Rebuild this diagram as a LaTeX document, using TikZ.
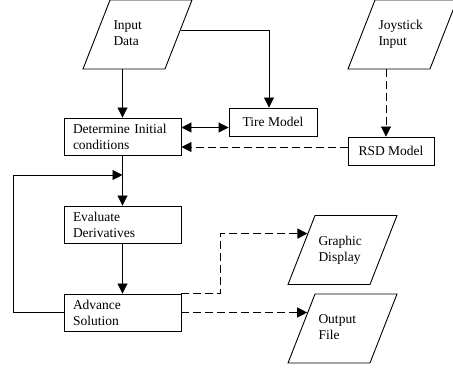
\documentclass[tikz,border=0pt]{standalone}
\usepackage{fontspec}
\setmainfont{Liberation Serif}
\usetikzlibrary{shapes.geometric,arrows.meta,calc}
\begin{document}
\begin{tikzpicture}[x=1pt,y=-1pt,
  font=\fontsize{13.5}{16}\selectfont,
  line width=0.9pt,
  proc/.style={draw, rectangle, minimum width=117pt, minimum height=37pt, text width=99pt, align=left, inner sep=0pt},
  smallbox/.style={draw, rectangle, minimum height=28pt, inner sep=0pt, align=center},
  io/.style={draw, trapezium, trapezium left angle=68.6, trapezium right angle=111.4,
    trapezium stretches body, minimum width=109pt,
    text width=48pt, text height=9.5pt, text depth=19pt, align=left,
    inner xsep=0pt, inner ysep=20.25pt},
  flow/.style={-{Triangle[length=10pt,width=10pt]}},
  dflow/.style={-{Triangle[length=10pt,width=10pt]}, dash pattern=on 8pt off 4pt},
]
\fill[white] (0,0) rectangle (453,371);
\useasboundingbox (0,0) rectangle (453,371);

\node[proc] (det) at (122.5,136.5) {Determine Initial\\conditions};
\node[proc] (eval) at (122.5,224.5) {Evaluate\\Derivatives};
\node[proc] (adv) at (122.5,312.5) {Advance\\Solution};
\node[smallbox, minimum width=88pt] (tire) at (273,122) {Tire Model};
\node[smallbox, minimum width=86pt] (rsd) at (391,151) {RSD Model};
\node[io] (id) at (137.5,34.5) {Input\\Data};
\node[io] (joy) at (402.5,34.5) {Joystick\\Input};
\node[io] (gd) at (342.5,250) {Graphic\\Display};
\node[io] (of) at (342.5,328.5) {Output\\File};

\coordinate (idR) at ($(id.bottom right corner)!0.565!(id.top right corner)$);
\coordinate (lp) at ($(det.south)!0.39!(eval.north)$);
\coordinate (gdL) at ($(gd.bottom left corner)!0.735!(gd.top left corner)$);
\coordinate (ofL) at ($(of.bottom left corner)!0.725!(of.top left corner)$);

\draw[flow] (id.south -| det.north) -- (det.north);
\draw[flow] (idR) -| ([xshift=-4pt]tire.north);
\draw[{Triangle[length=10pt,width=10pt]}-{Triangle[length=10pt,width=10pt]}]
  ([yshift=-5.5pt]tire.west -| det.east) -- ([yshift=-5.5pt]tire.west);
\draw[dflow] ([xshift=-5pt]rsd.north |- joy.south) -- ([xshift=-5pt]rsd.north);
\draw[dflow] ([yshift=4pt]rsd.west) -- ([yshift=4pt]rsd.west -| det.east);
\draw[flow] (det.south) -- (eval.north);
\draw[flow] (eval.south) -- (adv.north);
\draw[flow] (adv.west) -- ++(-50pt,0) |- (lp);
\draw[dflow] (adv.north east) -- ++(39pt,0) |- (gdL);
\draw[dflow] (adv.east) -- (adv.east -| ofL);
\end{tikzpicture}
\end{document}
